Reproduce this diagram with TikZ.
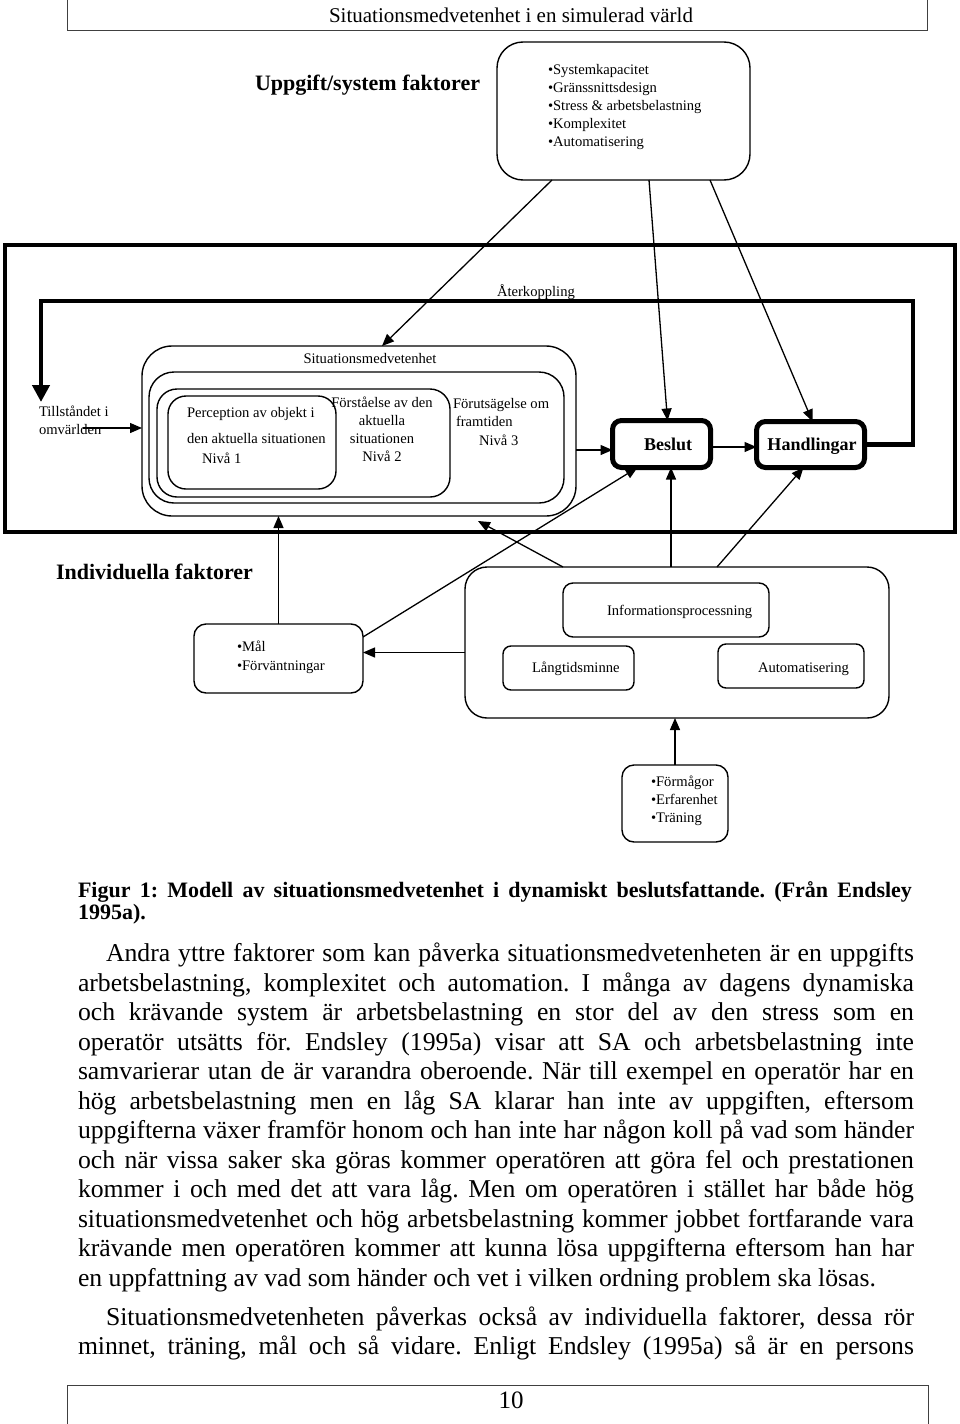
\documentclass[tikz,border=0pt]{standalone}
\usepackage{fontspec}
\setmainfont{Liberation Serif}
\usetikzlibrary{arrows.meta}
\frenchspacing
\begin{document}
\frenchspacing
\begin{tikzpicture}[x=1pt,y=-1pt,
 every node/.style={inner sep=0pt,outer sep=0pt},
 smalltxt/.style={font=\fontsize{14.6}{18}\selectfont},
 lbltxt/.style={font=\bfseries\fontsize{22}{26}\selectfont},
 boldlbl/.style={font=\bfseries\fontsize{18}{20}\selectfont,anchor=base},
 rbox/.style={draw,line width=1.4pt,rounded corners=#1,anchor=north west},
 thickbox/.style={draw,line width=5pt,rounded corners=9pt,anchor=north west},
 arr/.style={line width=1.3pt,-{Triangle[length=12pt,width=10pt]}},
 fbarr/.style={line width=4.2pt,line join=miter,-{Triangle[length=17pt,width=17pt]}},
 bodytxt/.style={font=\fontsize{25.7}{29.5}\selectfont,anchor=base west},
 captxt/.style={font=\bfseries\fontsize{22}{23}\selectfont,anchor=base west},
 pageframe/.style={line width=1pt,draw=black!75}
]
\useasboundingbox (0,0) rectangle (960,1424);
% header
\draw[pageframe] (67,0) -- (67,30) -- (927,30) -- (927,0);
\node[font=\fontsize{21}{24}\selectfont,anchor=base] (hdr) at (511,22) {Situationsmedvetenhet i en simulerad värld};
% task/system factors
\node[lbltxt,anchor=base west] (uftitle) at (255,90) {Uppgift/system faktorer};
\node[rbox=26pt,minimum width=253pt,minimum height=138pt] (uf) at (497,42) {};
\node[smalltxt,anchor=north west,align=left] (ufl) at (548,64) {•Systemkapacitet\\•Gränssnittsdesign\\•Stress \& arbetsbelastning\\•Komplexitet\\•Automatisering};
% main box
\node[draw,line width=3.6pt,anchor=north west,minimum width=950.4pt,minimum height=287.4pt] (main) at (4.8,244.8) {};
\node[smalltxt,anchor=base west] (aterk) at (497,296) {Återkoppling};
\node[smalltxt,anchor=north west,align=left] (tillst) at (39,406) {Tillståndet i\\omvärlden};
% SA nested boxes
\node[rbox=30pt,minimum width=434pt,minimum height=170pt] (saout) at (142,346) {};
\node[smalltxt,anchor=base] (satitle) at (370,363) {Situationsmedvetenhet};
\node[rbox=25pt,minimum width=415pt,minimum height=131pt] (sa3) at (149,372) {};
\node[rbox=20pt,minimum width=293pt,minimum height=108pt] (sa2) at (157,389) {};
\node[rbox=18pt,minimum width=168pt,minimum height=93pt] (sa1) at (168,396) {};
\node[font=\fontsize{14.6}{20}\selectfont,anchor=north west,align=left] (l1) at (187,407) {Perception av objekt i\\[6pt]den aktuella situationen\\\hspace*{15pt}Nivå 1};
\node[font=\fontsize{14.6}{18}\selectfont,anchor=north,align=center] (l2) at (382,397) {Förståelse av den\\aktuella\\situationen\\Nivå 2};
\node[font=\fontsize{14.6}{18.5}\selectfont,anchor=north west,align=left] (l3) at (453,398) {Förutsägelse om\\\hspace*{3pt}framtiden\\\hspace*{26pt}Nivå 3};
% decision / action
\node[thickbox,minimum width=98pt,minimum height=47pt] (beslut) at (612.5,420.5) {};
\node[boldlbl] (beslutl) at (668,450) {Beslut};
\node[thickbox,minimum width=108pt,minimum height=46pt] (handl) at (756.5,421.5) {};
\node[boldlbl] (handll) at (812,450) {Handlingar};
% feedback
\coordinate (fbr) at (913,301);
\coordinate (fbl) at (41,301);
\coordinate (fbend) at (41,402);
\draw[fbarr] (handl.east) -| (fbr) -- (fbl) -- (fbend);
\coordinate (tsrc) at (83,428);
\draw[arr] (tsrc) -- (tsrc -| saout.west);
\draw[arr] ([yshift=-6pt]beslut.west -| saout.east) -- ([yshift=-6pt]beslut.west);
\draw[arr] ([yshift=-3pt]beslut.east) -- ([yshift=-3pt]beslut.east -| handl.west);
% top connectors
\draw[arr] ([xshift=55pt]uf.south west) -- ([xshift=240pt]saout.north west);
\draw[arr] ([xshift=152pt]uf.south west) -- ([xshift=55pt]beslut.north west);
\draw[arr] ([xshift=213pt]uf.south west) -- ([xshift=56pt]handl.north west);
% individual factors
\node[lbltxt,anchor=base west] (indtitle) at (56,579) {Individuella faktorer};
\node[rbox=12pt,minimum width=169pt,minimum height=69pt] (mal) at (194,624) {};
\node[anchor=north west,align=left,font=\fontsize{14.6}{19}\selectfont] (mall) at (237,641) {•Mål\\•Förväntningar};
\node[rbox=22pt,minimum width=424pt,minimum height=151pt] (ind) at (465,567) {};
\node[rbox=10pt,minimum width=206pt,minimum height=54pt] (info) at (563,583) {};
\node[smalltxt,anchor=base west] (infol) at (607,615) {Informationsprocessning};
\node[rbox=8pt,minimum width=131pt,minimum height=44pt] (lang) at (503,646) {};
\node[smalltxt,anchor=base west] (langl) at (532,672) {Långtidsminne};
\node[rbox=8pt,minimum width=146pt,minimum height=44pt] (auto) at (718,644) {};
\node[smalltxt,anchor=base west] (autol) at (758,672) {Automatisering};
\node[rbox=12pt,minimum width=106pt,minimum height=77pt] (form) at (622,765) {};
\node[smalltxt,anchor=north west,align=left] (forml) at (651,776) {•Förmågor\\•Erfarenhet\\•Träning};
% bottom connectors
\draw[arr] (mal.north) -- (mal.north |- saout.south);
\coordinate (satip) at (478,521);
\draw[arr] ([xshift=98pt]ind.north west) -- (satip);
\draw[arr] ([yshift=-13pt]mal.north east) -- ([xshift=25pt]beslut.south west);
\draw[arr] ([xshift=206pt]ind.north west) -- ([xshift=206pt]ind.north west |- beslut.south);
\draw[arr] ([xshift=252pt]ind.north west) -- ([xshift=47pt]handl.south west);
\draw[arr] ([yshift=-10pt]ind.west) -- ([yshift=-10pt]ind.west -| mal.east);
\draw[arr] (form.north) -- (form.north |- ind.south);
% caption
\node[captxt] (c1) at (78,897) {\makebox[834pt][s]{Figur 1: Modell av situationsmedvetenhet i dynamiskt beslutsfattande. (Från Endsley}};
\node[captxt] (c2) at (78,919) {1995a).};
% body
\node[bodytxt] (p1) at (106,961.5) {\makebox[808pt][s]{Andra yttre faktorer som kan påverka situationsmedvetenheten är en uppgifts}};
\node[bodytxt] (p2) at (78,991) {\makebox[836pt][s]{arbetsbelastning, komplexitet och automation. I många av dagens dynamiska}};
\node[bodytxt] (p3) at (78,1020.5) {\makebox[836pt][s]{och krävande system är arbetsbelastning en stor del av den stress som en}};
\node[bodytxt] (p4) at (78,1050) {\makebox[836pt][s]{operatör utsätts för. Endsley (1995a) visar att SA och arbetsbelastning inte}};
\node[bodytxt] (p5) at (78,1079.5) {\makebox[836pt][s]{samvarierar utan de är varandra oberoende. När till exempel en operatör har en}};
\node[bodytxt] (p6) at (78,1109) {\makebox[836pt][s]{hög arbetsbelastning men en låg SA klarar han inte av uppgiften, eftersom}};
\node[bodytxt] (p7) at (78,1138.5) {\makebox[836pt][s]{uppgifterna växer framför honom och han inte har någon koll på vad som händer}};
\node[bodytxt] (p8) at (78,1168) {\makebox[836pt][s]{och när vissa saker ska göras kommer operatören att göra fel och prestationen}};
\node[bodytxt] (p9) at (78,1197.5) {\makebox[836pt][s]{kommer i och med det att vara låg. Men om operatören i stället har både hög}};
\node[bodytxt] (p10) at (78,1227) {\makebox[836pt][s]{situationsmedvetenhet och hög arbetsbelastning kommer jobbet fortfarande vara}};
\node[bodytxt] (p11) at (78,1256.5) {\makebox[836pt][s]{krävande men operatören kommer att kunna lösa uppgifterna eftersom han har}};
\node[bodytxt] (p12) at (78,1286) {en uppfattning av vad som händer och vet i vilken ordning problem ska lösas.};
\node[bodytxt] (q1) at (106,1325) {\makebox[808pt][s]{Situationsmedvetenheten påverkas också av individuella faktorer, dessa rör}};
\node[bodytxt] (q2) at (78,1354.5) {\makebox[836pt][s]{minnet, träning, mål och så vidare. Enligt Endsley (1995a) så är en persons}};
% footer
\draw[pageframe] (67,1424) -- (67,1385) -- (928,1385) -- (928,1424);
\node[font=\fontsize{25}{28}\selectfont,anchor=base] (pnum) at (511,1408) {10};
\end{tikzpicture}
\end{document}
